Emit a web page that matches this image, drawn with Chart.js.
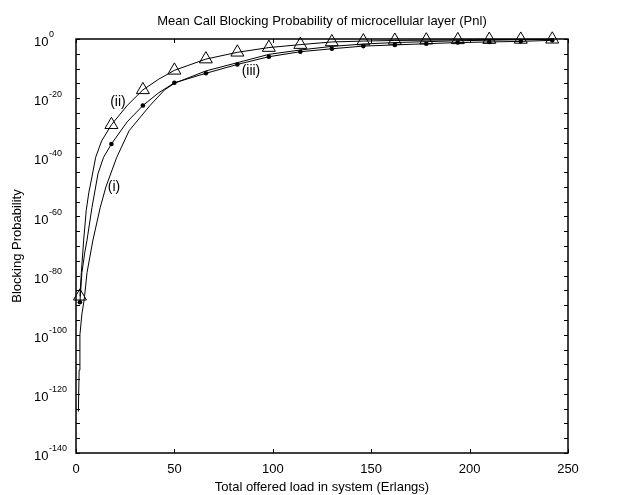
<!DOCTYPE html>
<html>
<head>
<meta charset="utf-8">
<script src="https://cdn.jsdelivr.net/npm/chart.js@4/dist/chart.umd.min.js"></script>
<style>
  html, body { margin: 0; padding: 0; background: #fff; }
</style>
</head>
<body>
<canvas id="chart" width="620" height="495"></canvas>
<script>
// loads (Erlangs) and log10 of blocking probability
const loadI = [1.2, 1.6, 2, 3, 4.2, 5.6, 8.6, 12.3, 15.2, 20.7, 27, 37.6, 45, 50, 66, 82, 98, 114, 130, 146, 162, 178, 194, 210, 226, 242];
const logI  = [-126, -112, -100, -93, -88, -79, -68, -57, -50, -40, -31, -22.5, -17.2, -15, -10.8, -8.0, -5.2, -3.7, -2.5, -1.7, -1.2, -0.9, -0.6, -0.4, -0.25, -0.15];

const loadII = [2, 2.7, 3.9, 5.2, 6.5, 8, 10, 13, 18, 26, 34, 42, 50, 66, 82, 98, 114, 130, 146, 162, 178, 194, 210, 226, 242];
const logII  = [-87, -79, -68, -58, -52, -47, -40, -34.5, -29, -22.5, -17.2, -13.6, -10.6, -6.8, -4.5, -2.9, -1.9, -1.0, -0.7, -0.5, -0.4, -0.3, -0.2, -0.15, -0.1];

const loadIII = [2, 3, 4.5, 5.6, 8.1, 11.2, 14, 18, 26, 34, 42, 50, 66, 82, 98, 114, 130, 146, 162, 178, 194, 210, 226, 242];
const logIII  = [-89, -79, -72, -68, -57, -45.5, -40, -35.5, -28, -22.5, -18.2, -14.8, -11.6, -8.6, -6.0, -4.3, -3.3, -2.4, -2.0, -1.6, -1.2, -1.0, -0.8, -0.45];

// loads where the markers sit
const markerLoads = [2, 18, 34, 50, 66, 82, 98, 114, 130, 146, 162, 178, 194, 210, 226, 242];

const xTicks = [0, 50, 100, 150, 200, 250];
const yLabelExps = [0, -20, -40, -60, -80, -100, -120, -140];
const yMinorExps = [];
for (let e = 0; e >= -140; e -= 5) yMinorExps.push(e);

const curveNames = ['(i)', '(ii)', '(iii)'];
const curveNameLoads = [19.3, 21.3, 88.9];
const curveNameExps = [-50.0, -21.3, -11.0];

const FONT = "'Liberation Sans', Arial, sans-serif";
Chart.defaults.font.family = FONT;
Chart.defaults.color = '#000';

const toPts = (xs, ys) => xs.map((x, i) => ({ x: x, y: ys[i] }));
const onMarker = c => c.raw && markerLoads.includes(c.raw.x);

const framePlugin = {
  id: 'frame',
  afterDatasetsDraw(chart) {
    const { ctx, chartArea: a, scales: { x, y } } = chart;
    ctx.save();
    ctx.strokeStyle = '#000';
    ctx.lineWidth = 1.5;
    ctx.strokeRect(a.left, a.top, a.right - a.left, a.bottom - a.top);

    ctx.lineWidth = 1;
    ctx.beginPath();
    yMinorExps.forEach(e => {
      const py = Math.round(y.getPixelForValue(e)) + 0.5;
      ctx.moveTo(a.left, py); ctx.lineTo(a.left + 4, py);
      ctx.moveTo(a.right, py); ctx.lineTo(a.right - 4, py);
    });
    xTicks.forEach(v => {
      const px = Math.round(x.getPixelForValue(v)) + 0.5;
      ctx.moveTo(px, a.bottom); ctx.lineTo(px, a.bottom - 4);
      ctx.moveTo(px, a.top); ctx.lineTo(px, a.top + 4);
    });
    ctx.stroke();

    // y tick labels 10^n
    ctx.fillStyle = '#000';
    ctx.textAlign = 'left';
    ctx.textBaseline = 'middle';
    yLabelExps.forEach(e => {
      const py = y.getPixelForValue(e);
      ctx.font = '13px ' + FONT;
      ctx.fillText('10', 34, py + 3.5);
      const w = ctx.measureText('10').width;
      ctx.font = '9px ' + FONT;
      ctx.fillText(String(e), 34 + w + 0.5, py - 4);
    });

    // curve names
    ctx.font = '14px ' + FONT;
    ctx.textAlign = 'center';
    curveNames.forEach((t, i) => {
      ctx.fillText(t, x.getPixelForValue(curveNameLoads[i]), y.getPixelForValue(curveNameExps[i]));
    });
    ctx.restore();
  }
};

new Chart(document.getElementById('chart'), {
  type: 'line',
  data: {
    datasets: [
      {
        label: '(i)',
        data: toPts(loadI, logI),
        borderColor: '#000', borderWidth: 1,
        pointRadius: 0, tension: 0, clip: 10
      },
      {
        label: '(ii)',
        data: toPts(loadII, logII),
        borderColor: '#000', borderWidth: 1,
        pointStyle: 'triangle',
        pointRadius: c => onMarker(c) ? 7.5 : 0,
        pointBackgroundColor: 'rgba(0,0,0,0)',
        pointBorderColor: '#000', pointBorderWidth: 1,
        tension: 0, clip: 10
      },
      {
        label: '(iii)',
        data: toPts(loadIII, logIII),
        borderColor: '#000', borderWidth: 1,
        pointStyle: 'circle',
        pointRadius: c => onMarker(c) ? 2.3 : 0,
        pointBackgroundColor: '#000',
        pointBorderColor: '#000', pointBorderWidth: 0,
        tension: 0, clip: 10
      }
    ]
  },
  options: {
    responsive: false,
    animation: false,
    devicePixelRatio: 1,
    events: [],
    layout: { padding: { left: 0, right: 52, top: 0, bottom: 0 } },
    plugins: {
      legend: { display: false },
      tooltip: { enabled: false },
      title: {
        display: true,
        fullSize: false,
        text: 'Mean Call Blocking Probability of microcellular layer (Pnl)',
        font: { size: 13, weight: 'normal' },
        color: '#000',
        padding: { top: 14, bottom: 9.4 }
      }
    },
    scales: {
      x: {
        type: 'linear',
        min: 0, max: 250,
        grid: { display: false },
        border: { display: false },
        ticks: { stepSize: 50, font: { size: 13 }, color: '#000', padding: 1 },
        title: {
          display: true,
          text: 'Total offered load in system (Erlangs)',
          font: { size: 13 },
          color: '#000',
          padding: { top: 0, bottom: 0 }
        },
        afterFit: s => { s.height = 42; }
      },
      y: {
        type: 'linear',
        min: -140, max: 0,
        grid: { display: false },
        border: { display: false },
        ticks: { display: false },
        title: {
          display: true,
          text: 'Blocking Probability',
          font: { size: 13 },
          color: '#000',
          padding: { top: 10, bottom: 0 }
        },
        afterFit: s => { s.width = 76; }
      }
    }
  },
  plugins: [framePlugin]
});
</script>
</body>
</html>
